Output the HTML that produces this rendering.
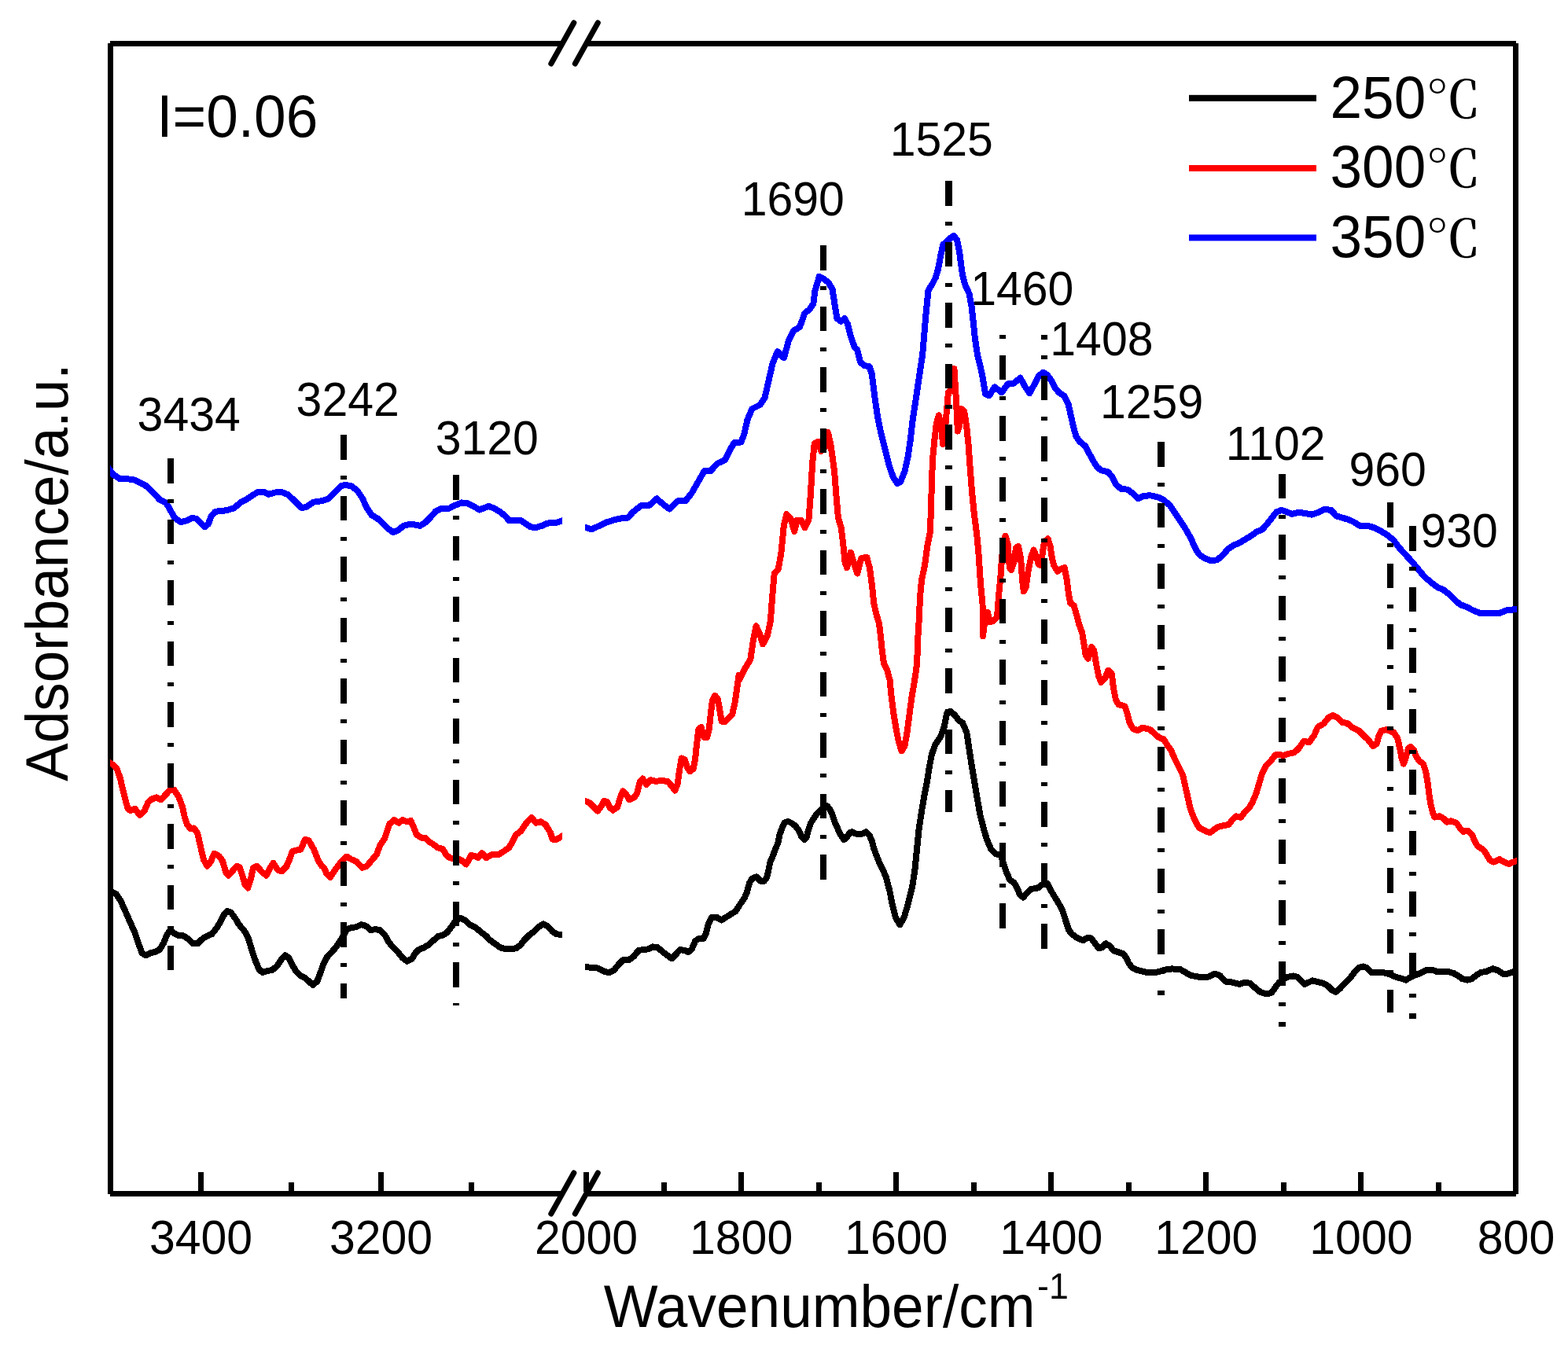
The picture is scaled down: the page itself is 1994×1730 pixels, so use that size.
<!DOCTYPE html>
<html><head><meta charset="utf-8"><title>FTIR spectra</title>
<style>html,body{margin:0;padding:0;background:#fff;} svg{display:block;}</style></head>
<body><svg width="1994" height="1730" viewBox="0 0 1994 1730">
<rect width="1994" height="1730" fill="#fff"/>
<g fill="#000" shape-rendering="crispEdges">
<rect x="140" y="52" width="575" height="7"/>
<rect x="746" y="52" width="1182" height="7"/>
<rect x="140" y="1515" width="575" height="7"/>
<rect x="746" y="1515" width="1182" height="7"/>
<rect x="137" y="55" width="7" height="1464"/>
<rect x="1924" y="55" width="7" height="1464"/>
<rect x="251.8" y="1491" width="7" height="25"/>
<rect x="481.2" y="1491" width="7" height="25"/>
<rect x="366.5" y="1504" width="7" height="12"/>
<rect x="596.0" y="1504" width="7" height="12"/>
<rect x="742.0" y="1491" width="7" height="25"/>
<rect x="939.1" y="1491" width="7" height="25"/>
<rect x="1136.2" y="1491" width="7" height="25"/>
<rect x="1333.3" y="1491" width="7" height="25"/>
<rect x="1530.3" y="1491" width="7" height="25"/>
<rect x="1727.4" y="1491" width="7" height="25"/>
<rect x="840.5" y="1504" width="7" height="12"/>
<rect x="1037.6" y="1504" width="7" height="12"/>
<rect x="1234.7" y="1504" width="7" height="12"/>
<rect x="1431.8" y="1504" width="7" height="12"/>
<rect x="1628.9" y="1504" width="7" height="12"/>
<rect x="1826.0" y="1504" width="7" height="12"/>
</g>
<g stroke="#000" stroke-width="7" stroke-linecap="round">
<line x1="700.8" y1="81.0" x2="729.8" y2="29.0"/>
<line x1="731.3" y1="81.0" x2="760.3" y2="29.0"/>
<line x1="700.8" y1="1544.0" x2="729.8" y2="1492.0"/>
<line x1="731.3" y1="1544.0" x2="760.3" y2="1492.0"/>
</g>
<g font-family="'Liberation Sans', Arial, sans-serif" fill="#000">
<text transform="translate(255.5,1595.0) scale(1,1.0412)" font-size="59" text-anchor="middle">3400</text>
<text transform="translate(484.5,1595.0) scale(1,1.0412)" font-size="59" text-anchor="middle">3200</text>
<text transform="translate(745.5,1595.0) scale(1,1.0412)" font-size="59" text-anchor="middle">2000</text>
<text transform="translate(942.6,1595.0) scale(1,1.0412)" font-size="59" text-anchor="middle">1800</text>
<text transform="translate(1139.7,1595.0) scale(1,1.0412)" font-size="59" text-anchor="middle">1600</text>
<text transform="translate(1336.8,1595.0) scale(1,1.0412)" font-size="59" text-anchor="middle">1400</text>
<text transform="translate(1533.8,1595.0) scale(1,1.0412)" font-size="59" text-anchor="middle">1200</text>
<text transform="translate(1730.9,1595.0) scale(1,1.0412)" font-size="59" text-anchor="middle">1000</text>
<text transform="translate(1928.0,1595.0) scale(1,1.0412)" font-size="59" text-anchor="middle">800</text>
<text transform="translate(767.7,1687.7) scale(1,1.0412)" font-size="73">Wavenumber/cm</text>
<text transform="translate(1319.1,1651.9) scale(1,1.0412)" font-size="44.7">-1</text>
<text transform="translate(86,994) rotate(-90) scale(1,1.0412)" font-size="73">Adsorbance/a.u.</text>
<text transform="translate(199.3,173.8) scale(1,1.0412)" font-size="73">I=0.06</text>
<text transform="translate(174.6,548.0) scale(1,1.0412)" font-size="59">3434</text>
<text transform="translate(376.6,529.0) scale(1,1.0412)" font-size="59">3242</text>
<text transform="translate(553.7,578.3) scale(1,1.0412)" font-size="59">3120</text>
<text transform="translate(942.7,273.6) scale(1,1.0412)" font-size="59">1690</text>
<text transform="translate(1131.7,197.7) scale(1,1.0412)" font-size="59">1525</text>
<text transform="translate(1234.2,388.1) scale(1,1.0412)" font-size="59">1460</text>
<text transform="translate(1335.3,452.4) scale(1,1.0412)" font-size="59">1408</text>
<text transform="translate(1399.0,531.7) scale(1,1.0412)" font-size="59">1259</text>
<text transform="translate(1558.8,585.1) scale(1,1.0412)" font-size="59">1102</text>
<text transform="translate(1715.4,618.4) scale(1,1.0412)" font-size="59">960</text>
<text transform="translate(1806.4,696.1) scale(1,1.0412)" font-size="59">930</text>
</g>
<g>
<rect x="1512" y="120.8" width="162" height="8" fill="#000"/>
<text transform="translate(1691.5,149.9) scale(1,1.0412)" font-size="73" font-family="'Liberation Sans', sans-serif">250</text>
<text transform="translate(1813.3,149.9) scale(0.958,0.888)" font-size="73" font-weight="500" font-family="'Liberation Serif', 'Noto Serif CJK SC', serif">℃</text>
<rect x="1512" y="210.0" width="162" height="8" fill="#f00"/>
<text transform="translate(1691.5,238.3) scale(1,1.0412)" font-size="73" font-family="'Liberation Sans', sans-serif">300</text>
<text transform="translate(1813.3,238.3) scale(0.958,0.888)" font-size="73" font-weight="500" font-family="'Liberation Serif', 'Noto Serif CJK SC', serif">℃</text>
<rect x="1512" y="298.4" width="162" height="8" fill="#00f"/>
<text transform="translate(1691.5,326.8) scale(1,1.0412)" font-size="73" font-family="'Liberation Sans', sans-serif">350</text>
<text transform="translate(1813.3,326.8) scale(0.958,0.888)" font-size="73" font-weight="500" font-family="'Liberation Serif', 'Noto Serif CJK SC', serif">℃</text>
</g>
<defs><clipPath id="cl"><rect x="140" y="0" width="575" height="1730"/></clipPath><clipPath id="cr"><rect x="743.9" y="0" width="1185.1" height="1730"/></clipPath></defs>
<path clip-path="url(#cl)" d="M136.1,1131.4 L141.5,1134.1 L147.5,1137.1 L153.5,1146.1 L159.6,1159.6 L165.6,1173.2 L171.6,1186.7 L176.1,1200.3 L180.6,1212.3 L185.1,1215.3 L191.2,1212.3 L197.2,1210.8 L203.2,1207.8 L207.7,1200.3 L212.2,1189.7 L215.2,1184.5 L219.7,1186.0 L225.8,1189.7 L233.3,1190.5 L239.3,1194.3 L245.3,1200.3 L251.3,1200.3 L257.4,1194.3 L263.4,1190.5 L269.4,1188.2 L275.4,1180.7 L279.9,1173.2 L284.4,1164.2 L288.9,1158.9 L293.5,1160.4 L299.5,1168.7 L304.0,1176.2 L311.5,1185.2 L316.0,1194.3 L320.5,1209.3 L325.1,1222.8 L329.6,1233.4 L334.1,1237.1 L340.1,1234.9 L346.1,1234.1 L352.1,1228.9 L358.2,1219.8 L362.7,1215.3 L367.2,1218.3 L371.7,1227.4 L376.2,1234.9 L382.2,1240.9 L388.2,1243.9 L394.3,1249.9 L398.0,1252.9 L403.3,1248.4 L407.8,1236.4 L410.8,1227.4 L415.3,1218.3 L421.3,1211.6 L427.4,1204.8 L433.4,1195.8 L439.4,1185.2 L441.1,1182.2 L447.1,1180.0 L453.1,1179.2 L459.1,1176.2 L465.1,1177.7 L471.2,1183.0 L477.2,1182.2 L483.2,1183.0 L489.2,1189.0 L493.7,1197.3 L498.2,1203.3 L505.8,1210.8 L511.8,1218.3 L517.8,1222.8 L523.8,1219.8 L528.3,1212.3 L532.8,1207.8 L538.9,1205.5 L544.9,1201.8 L550.9,1196.5 L556.9,1191.2 L562.9,1189.7 L568.9,1186.0 L575.0,1177.7 L579.5,1170.9 L585.5,1167.9 L591.5,1170.9 L597.5,1176.2 L605.1,1180.0 L611.1,1185.2 L617.1,1189.7 L623.1,1195.8 L629.1,1200.3 L636.6,1205.5 L642.7,1207.0 L650.2,1207.0 L656.2,1206.3 L662.2,1201.8 L666.7,1195.8 L672.8,1189.7 L678.8,1185.2 L684.8,1179.2 L690.8,1175.4 L696.8,1178.5 L702.8,1185.2 L707.4,1188.2 L714.1,1189.0 L720.1,1189.6" fill="none" stroke="#000" stroke-width="8" stroke-linejoin="round" stroke-linecap="butt" shape-rendering="crispEdges"/>
<path clip-path="url(#cr)" d="M737.8,1229.2 L743.8,1229.9 L750.5,1230.7 L759.5,1231.4 L767.0,1235.2 L774.6,1237.4 L780.6,1234.4 L786.6,1226.9 L792.6,1220.9 L800.1,1220.9 L806.1,1216.4 L812.1,1208.9 L818.1,1208.1 L824.1,1207.4 L830.2,1204.4 L836.2,1205.1 L842.2,1210.4 L848.2,1214.9 L854.2,1219.4 L860.2,1213.4 L864.7,1208.1 L870.7,1208.9 L875.2,1211.1 L879.7,1207.4 L884.3,1196.8 L888.8,1193.8 L894.8,1193.8 L897.8,1187.8 L900.8,1175.8 L905.3,1166.8 L911.3,1166.8 L917.3,1170.5 L923.3,1166.8 L929.3,1163.0 L935.3,1159.3 L941.0,1150.5 L946.5,1142.8 L949.8,1135.1 L953.1,1123.0 L956.4,1117.5 L961.9,1115.3 L967.3,1120.8 L971.7,1120.8 L975.0,1116.4 L977.2,1107.6 L979.4,1096.7 L982.7,1089.0 L986.0,1080.2 L989.3,1072.5 L991.5,1061.5 L994.8,1052.7 L998.1,1046.1 L1002.5,1045.0 L1006.9,1047.2 L1011.3,1050.5 L1015.7,1056.0 L1019.0,1063.7 L1022.8,1068.1 L1025.6,1064.8 L1027.7,1057.1 L1031.0,1047.2 L1034.3,1041.7 L1038.7,1035.1 L1043.1,1030.8 L1046.4,1027.5 L1051.9,1025.3 L1055.2,1029.7 L1058.5,1036.2 L1061.8,1046.1 L1066.2,1056.0 L1069.5,1062.6 L1073.3,1068.1 L1077.2,1064.8 L1080.5,1059.3 L1083.8,1058.2 L1088.2,1060.4 L1092.5,1061.5 L1096.9,1060.4 L1101.3,1058.2 L1105.7,1062.6 L1109.0,1070.3 L1111.2,1079.1 L1114.5,1087.9 L1118.9,1098.8 L1123.3,1107.6 L1126.6,1115.3 L1128.8,1124.1 L1131.3,1132.8 L1134.7,1150.2 L1139.1,1167.5 L1144.3,1176.2 L1149.5,1167.5 L1154.7,1150.2 L1159.9,1129.4 L1163.4,1106.8 L1166.0,1080.8 L1168.6,1054.8 L1172.0,1032.2 L1175.5,1011.4 L1179.0,994.1 L1181.6,976.7 L1185.0,959.4 L1189.4,947.2 L1196.3,936.8 L1200.7,924.7 L1204.1,907.3 L1208.5,904.7 L1213.7,909.1 L1218.9,916.0 L1224.1,919.5 L1229.3,931.6 L1232.7,954.2 L1236.2,976.7 L1239.7,997.5 L1243.2,1018.4 L1246.6,1037.4 L1251.0,1054.8 L1255.3,1068.7 L1260.5,1080.8 L1265.7,1086.0 L1272.6,1087.7 L1276.1,1098.2 L1279.6,1108.6 L1283.9,1119.0 L1289.1,1122.4 L1293.5,1129.4 L1296.9,1138.0 L1301.3,1141.5 L1305.6,1136.3 L1310.8,1131.1 L1320.0,1129.4 L1324.1,1126.1 L1328.1,1123.1 L1332.1,1124.1 L1336.1,1132.1 L1340.1,1139.1 L1345.1,1147.1 L1350.2,1156.2 L1353.2,1164.2 L1356.2,1174.2 L1359.2,1183.2 L1363.2,1188.3 L1370.2,1193.3 L1377.2,1196.3 L1382.2,1193.3 L1387.3,1193.3 L1391.3,1198.3 L1397.3,1206.3 L1401.3,1205.3 L1406.3,1200.3 L1411.3,1203.3 L1416.3,1209.3 L1422.4,1211.3 L1428.4,1213.3 L1432.4,1218.4 L1435.4,1225.4 L1439.4,1230.4 L1444.4,1233.4 L1452.5,1235.4 L1460.5,1237.4 L1468.5,1237.4 L1475.5,1235.4 L1482.5,1233.4 L1490.6,1232.4 L1501.0,1233.1 L1506.5,1236.4 L1514.3,1240.8 L1523.1,1242.5 L1531.9,1243.0 L1537.4,1242.5 L1545.2,1238.6 L1551.8,1241.4 L1558.4,1248.5 L1567.2,1249.6 L1576.1,1251.9 L1583.8,1249.6 L1589.3,1250.8 L1595.9,1256.3 L1602.5,1261.8 L1610.3,1264.5 L1616.9,1262.9 L1622.4,1255.2 L1626.8,1249.6 L1631.2,1246.3 L1636.7,1243.0 L1644.5,1241.4 L1650.0,1243.0 L1655.5,1248.5 L1658.8,1251.9 L1664.3,1249.6 L1668.7,1247.4 L1675.4,1249.1 L1683.1,1250.8 L1688.6,1254.1 L1694.1,1259.6 L1698.5,1261.8 L1704.0,1257.4 L1711.5,1249.6 L1717.3,1243.8 L1723.1,1235.8 L1727.7,1231.1 L1733.5,1229.4 L1738.1,1231.1 L1743.8,1236.9 L1750.8,1236.9 L1758.8,1236.9 L1766.9,1239.2 L1775.0,1242.7 L1783.0,1245.0 L1787.7,1246.7 L1793.4,1243.3 L1799.2,1240.4 L1806.1,1238.1 L1814.2,1234.0 L1821.1,1233.5 L1826.9,1235.8 L1832.6,1235.8 L1840.7,1235.8 L1848.8,1238.1 L1854.6,1241.5 L1859.2,1245.0 L1866.1,1246.7 L1871.9,1245.0 L1877.6,1240.4 L1883.4,1236.9 L1890.3,1235.8 L1898.4,1232.3 L1905.3,1234.6 L1911.1,1238.6 L1916.9,1238.6 L1923.8,1236.3 L1929.5,1234.4" fill="none" stroke="#000" stroke-width="8" stroke-linejoin="round" stroke-linecap="butt" shape-rendering="crispEdges"/>
<path clip-path="url(#cl)" d="M134.8,967.4 L140.0,970.5 L144.1,972.9 L148.3,977.3 L152.8,989.6 L155.8,1003.1 L159.6,1018.2 L162.6,1028.7 L165.6,1031.0 L171.6,1028.7 L177.6,1037.0 L183.6,1031.7 L188.1,1021.2 L192.7,1016.7 L198.7,1014.4 L204.7,1017.4 L210.7,1010.7 L216.7,1004.6 L221.2,1004.6 L227.3,1013.7 L231.8,1025.7 L234.8,1039.3 L237.8,1048.3 L242.3,1054.3 L246.8,1053.5 L251.3,1060.3 L254.3,1073.9 L258.9,1093.4 L263.4,1101.7 L267.9,1096.4 L272.4,1085.9 L278.4,1088.9 L282.9,1094.9 L287.4,1110.0 L290.5,1113.7 L296.5,1107.0 L301.0,1101.7 L304.7,1103.2 L308.5,1114.5 L311.5,1125.0 L315.3,1129.5 L319.0,1117.5 L322.0,1103.9 L326.6,1101.7 L332.6,1108.5 L338.6,1113.7 L343.1,1104.7 L347.6,1097.9 L353.6,1107.0 L358.2,1108.5 L364.2,1102.4 L368.7,1091.9 L371.7,1082.9 L377.7,1081.4 L382.2,1080.6 L388.2,1067.8 L392.8,1069.3 L398.8,1079.9 L404.8,1094.9 L409.3,1101.7 L412.3,1103.9 L415.3,1111.5 L419.8,1116.0 L425.9,1107.0 L431.9,1098.7 L439.4,1090.4 L441.1,1089.7 L447.1,1093.4 L453.1,1095.7 L460.6,1103.9 L466.6,1101.7 L472.7,1094.2 L478.7,1087.4 L483.2,1075.4 L489.2,1066.3 L492.2,1057.3 L495.2,1048.3 L501.2,1043.0 L507.3,1046.8 L511.8,1043.0 L517.8,1045.3 L522.3,1043.8 L526.8,1054.3 L529.8,1061.8 L535.8,1065.6 L540.4,1065.6 L544.9,1070.1 L550.9,1073.9 L556.9,1078.4 L562.9,1079.9 L567.4,1087.4 L572.0,1091.2 L578.0,1092.7 L585.5,1093.4 L593.0,1099.4 L599.0,1088.1 L603.6,1088.9 L608.1,1091.2 L612.6,1085.1 L618.6,1091.2 L624.6,1087.4 L633.6,1087.4 L639.7,1083.6 L647.2,1078.4 L651.7,1070.8 L656.2,1061.8 L662.2,1057.3 L668.2,1048.3 L675.8,1040.0 L681.8,1046.8 L687.8,1045.3 L693.8,1049.0 L699.8,1058.8 L702.8,1067.8 L707.4,1067.8 L714.1,1064.1 L719.4,1061.2" fill="none" stroke="#f00" stroke-width="8" stroke-linejoin="round" stroke-linecap="butt" shape-rendering="crispEdges"/>
<path clip-path="url(#cr)" d="M738.7,1016.6 L744.2,1019.0 L750.1,1021.5 L755.1,1026.6 L760.1,1031.6 L765.1,1024.9 L767.7,1019.0 L771.9,1019.8 L775.2,1026.6 L779.4,1030.7 L785.3,1026.6 L788.6,1014.8 L792.0,1006.4 L797.0,1011.5 L800.4,1017.3 L807.1,1014.0 L810.4,1008.1 L813.8,994.7 L817.1,990.5 L822.1,998.1 L827.2,992.2 L833.9,993.9 L840.6,993.0 L849.0,993.9 L854.0,999.7 L858.2,1005.6 L861.5,998.1 L864.1,979.6 L866.6,964.5 L870.8,966.2 L874.1,976.3 L877.5,981.3 L881.7,977.9 L884.2,964.5 L885.9,947.8 L888.4,927.6 L891.7,925.1 L895.1,937.7 L899.3,937.7 L901.8,927.6 L903.5,910.9 L906.0,890.8 L909.3,884.9 L912.7,889.1 L915.2,902.5 L917.7,917.6 L921.9,918.4 L926.1,914.2 L931.1,909.2 L934.5,894.1 L937.0,877.4 L939.5,858.9 L939.7,865.5 L947.0,850.9 L954.3,838.8 L957.9,814.5 L961.6,796.3 L966.4,807.2 L970.1,819.4 L976.2,807.2 L979.8,790.2 L982.2,758.6 L984.7,729.5 L989.5,724.6 L993.2,705.2 L996.8,668.7 L1000.4,654.2 L1005.3,659.0 L1010.2,676.0 L1013.8,661.5 L1018.7,661.5 L1023.5,671.2 L1028.4,661.5 L1030.8,629.9 L1033.2,588.6 L1035.7,564.3 L1040.5,561.9 L1044.2,574.0 L1049.0,569.1 L1052.7,549.7 L1056.3,564.3 L1061.2,600.7 L1063.6,632.3 L1066.0,659.0 L1069.7,671.2 L1072.1,690.6 L1074.5,714.9 L1077.0,722.2 L1081.8,702.8 L1085.5,714.9 L1090.3,729.5 L1095.2,710.0 L1102.3,709.0 L1106.0,722.5 L1109.0,745.1 L1111.3,767.6 L1114.3,781.1 L1118.0,793.2 L1120.3,812.7 L1121.8,827.7 L1124.0,844.2 L1128.5,853.3 L1131.6,865.3 L1133.8,887.8 L1136.8,910.4 L1139.8,928.4 L1142.8,943.4 L1146.6,955.4 L1150.3,949.4 L1153.3,932.9 L1156.3,910.4 L1159.3,887.8 L1162.4,869.8 L1165.4,850.3 L1166.9,827.7 L1167.6,805.2 L1169.1,784.1 L1169.9,760.1 L1172.1,737.6 L1175.9,719.9 L1179.6,692.9 L1182.6,677.9 L1184.1,647.8 L1184.9,610.3 L1186.4,580.2 L1188.6,557.7 L1190.9,538.1 L1193.9,528.4 L1196.9,544.1 L1199.2,565.2 L1202.2,542.6 L1204.4,517.1 L1205.9,499.1 L1209.7,496.1 L1213.4,469.0 L1215.7,505.1 L1217.9,548.6 L1220.2,541.1 L1222.5,520.1 L1226.2,523.1 L1229.2,542.6 L1231.5,565.2 L1233.7,595.2 L1236.0,625.3 L1239.0,655.3 L1242.0,677.9 L1244.2,700.4 L1247.2,745.1 L1249.5,767.6 L1250.0,809.3 L1253.0,785.2 L1256.0,779.2 L1259.0,791.2 L1263.5,789.7 L1268.0,785.2 L1270.3,755.2 L1272.5,732.6 L1274.0,710.1 L1276.3,687.6 L1278.5,681.6 L1281.6,692.1 L1283.8,722.1 L1286.1,725.1 L1289.8,713.1 L1292.1,696.6 L1295.1,695.1 L1298.1,710.1 L1300.3,740.2 L1301.8,752.2 L1304.8,746.2 L1307.8,725.1 L1311.6,707.1 L1314.6,699.6 L1317.6,707.1 L1320.6,717.6 L1323.6,719.1 L1325.9,702.6 L1328.1,689.1 L1332.6,685.3 L1335.6,695.1 L1337.9,710.1 L1340.2,719.1 L1344.7,726.6 L1349.2,723.6 L1353.7,722.1 L1356.7,737.1 L1358.9,755.2 L1361.2,767.2 L1365.7,770.2 L1368.7,780.7 L1371.7,792.7 L1376.2,804.8 L1378.5,819.8 L1380.7,833.3 L1383.7,837.8 L1388.2,822.8 L1391.2,827.3 L1394.2,845.3 L1397.2,860.4 L1400.3,867.9 L1404.8,863.4 L1409.3,852.8 L1413.8,857.3 L1416.0,875.4 L1419.0,890.4 L1422.8,896.4 L1428.8,897.9 L1430.5,898.5 L1433.5,907.6 L1436.5,919.6 L1441.0,927.1 L1447.0,929.3 L1453.1,925.6 L1462.1,927.8 L1468.1,933.1 L1474.1,938.4 L1480.1,940.6 L1484.6,948.1 L1489.1,954.1 L1493.6,964.7 L1498.1,973.7 L1504.1,985.7 L1507.1,999.2 L1510.2,1012.7 L1513.2,1026.3 L1516.2,1035.3 L1520.7,1045.8 L1525.2,1053.3 L1531.2,1056.3 L1538.7,1059.3 L1544.7,1054.8 L1549.2,1051.8 L1555.2,1050.3 L1562.7,1048.8 L1567.2,1042.8 L1571.8,1038.3 L1577.8,1039.8 L1582.3,1033.8 L1588.3,1027.8 L1592.8,1020.3 L1597.3,1009.7 L1602.0,994.2 L1605.0,983.7 L1609.5,974.7 L1615.5,968.6 L1621.6,960.4 L1626.1,959.6 L1632.1,961.1 L1638.1,958.9 L1645.6,957.4 L1651.6,952.1 L1657.6,943.1 L1665.1,943.9 L1671.1,935.6 L1675.6,925.1 L1683.2,920.6 L1689.2,913.1 L1695.2,910.1 L1701.2,913.1 L1707.2,919.1 L1713.2,919.8 L1719.2,925.1 L1728.2,929.6 L1734.2,935.6 L1740.3,941.6 L1746.3,949.1 L1750.8,946.1 L1753.0,937.1 L1756.8,929.6 L1762.8,928.1 L1772.1,931.6 L1777.0,938.8 L1780.0,951.0 L1782.5,964.3 L1784.9,971.6 L1787.9,963.1 L1790.9,952.2 L1794.0,949.8 L1797.6,953.4 L1801.3,963.1 L1804.9,968.0 L1809.8,971.6 L1813.4,982.5 L1815.8,997.1 L1817.6,1011.7 L1819.5,1023.8 L1821.9,1033.5 L1824.3,1039.6 L1830.4,1038.3 L1835.2,1040.8 L1840.1,1045.6 L1845.0,1044.4 L1852.2,1046.8 L1857.1,1054.1 L1860.7,1057.8 L1866.8,1056.6 L1871.7,1061.4 L1875.3,1069.9 L1878.9,1076.0 L1887.4,1082.0 L1891.1,1088.1 L1894.7,1094.2 L1899.6,1096.6 L1906.8,1093.0 L1912.9,1096.6 L1919.0,1099.0 L1923.8,1096.6 L1928.1,1095.4 L1933.9,1093.7" fill="none" stroke="#f00" stroke-width="8" stroke-linejoin="round" stroke-linecap="butt" shape-rendering="crispEdges"/>
<path clip-path="url(#cl)" d="M136.5,593.5 L140.0,598.4 L143.0,602.6 L145.7,605.0 L147.5,605.9 L152.8,609.3 L168.6,609.6 L174.6,612.3 L185.1,617.6 L191.2,622.9 L203.2,635.7 L210.7,639.4 L215.2,646.2 L222.0,659.0 L230.3,664.3 L237.8,662.0 L243.8,659.0 L249.8,659.7 L254.3,664.3 L260.4,670.3 L264.9,666.5 L268.6,656.7 L273.9,650.7 L282.9,650.0 L290.5,648.5 L298.0,646.2 L305.5,639.4 L313.0,635.7 L320.5,630.4 L328.1,625.9 L335.6,625.9 L341.6,628.9 L349.1,626.6 L358.2,625.9 L365.7,628.9 L373.2,635.7 L383.7,646.2 L389.7,644.7 L398.8,638.7 L409.3,637.2 L416.8,634.9 L425.9,625.9 L433.4,618.4 L438.8,616.9 L447.1,618.4 L454.6,624.4 L460.6,633.4 L466.6,646.2 L472.7,655.2 L480.2,659.7 L487.7,666.5 L493.7,672.5 L499.7,677.0 L505.8,674.8 L513.3,668.8 L519.3,667.3 L526.8,667.3 L534.3,668.8 L540.4,665.0 L547.9,657.5 L553.9,650.7 L561.4,647.0 L570.5,647.0 L578.0,643.2 L587.0,639.4 L594.5,640.2 L602.0,643.9 L609.6,648.5 L615.6,646.2 L621.6,643.9 L629.1,647.0 L636.6,651.5 L642.7,656.7 L647.2,662.0 L654.7,662.0 L662.2,662.0 L668.2,665.8 L674.3,670.3 L681.8,671.0 L689.3,668.8 L695.3,665.8 L701.3,665.0 L707.4,665.0 L714.1,662.7 L719.8,660.9" fill="none" stroke="#00f" stroke-width="8" stroke-linejoin="round" stroke-linecap="butt" shape-rendering="crispEdges"/>
<path clip-path="url(#cr)" d="M738.3,668.9 L744.0,670.7 L752.1,673.4 L760.2,669.7 L770.3,664.7 L780.5,661.6 L788.6,659.6 L798.7,658.6 L804.7,651.5 L814.8,643.4 L825.0,643.4 L835.1,634.3 L843.2,641.4 L851.3,647.5 L861.4,637.4 L871.5,637.4 L879.6,627.3 L887.7,613.1 L895.8,598.9 L903.9,598.9 L911.9,589.8 L922.1,584.8 L928.1,572.6 L934.2,562.5 L942.3,562.5 L946.3,552.4 L950.4,534.2 L956.5,520.0 L966.6,515.0 L972.6,505.9 L976.7,487.7 L982.8,461.4 L988.8,447.2 L996.9,455.3 L1003.0,433.1 L1009.0,420.9 L1017.1,415.9 L1023.2,398.7 L1029.3,393.6 L1034.3,386.5 L1036.4,370.3 L1041.8,351.8 L1047.7,354.8 L1053.6,359.7 L1058.5,367.6 L1061.5,387.2 L1064.4,404.9 L1069.3,408.9 L1074.2,404.9 L1078.2,412.8 L1082.1,428.5 L1087.0,442.3 L1090.0,444.4 L1094.2,461.0 L1099.4,465.2 L1105.6,466.2 L1108.7,475.6 L1110.8,492.2 L1112.9,508.9 L1116.0,529.7 L1120.2,550.5 L1125.4,571.3 L1130.6,592.1 L1135.8,606.7 L1141.0,615.0 L1145.1,612.9 L1150.3,600.4 L1154.5,581.7 L1157.6,560.9 L1160.7,533.8 L1163.9,513.0 L1167.0,492.2 L1170.1,471.4 L1173.2,450.6 L1175.3,425.6 L1177.4,400.7 L1180.5,369.5 L1185.7,361.1 L1189.9,352.8 L1193.0,342.4 L1196.1,325.8 L1199.2,311.2 L1203.4,308.1 L1208.6,302.9 L1212.8,299.8 L1216.9,305.0 L1220.0,319.5 L1222.1,336.2 L1224.2,350.7 L1227.3,362.2 L1232.5,373.6 L1235.6,390.3 L1237.7,409.0 L1239.8,429.8 L1242.9,450.6 L1246.0,463.1 L1249.2,477.7 L1253.1,501.3 L1258.0,503.2 L1264.9,492.4 L1273.8,499.3 L1281.6,488.5 L1289.5,487.5 L1297.4,480.6 L1303.3,491.4 L1309.2,500.3 L1315.1,489.5 L1321.0,477.7 L1326.9,473.7 L1331.7,476.9 L1336.8,483.6 L1341.8,493.6 L1346.8,499.5 L1353.5,503.7 L1358.5,513.7 L1361.9,528.8 L1365.3,543.9 L1368.6,555.6 L1373.6,562.3 L1380.3,567.4 L1385.4,577.4 L1390.4,586.6 L1395.4,594.2 L1400.4,598.4 L1408.8,600.1 L1413.9,605.9 L1418.9,616.0 L1425.6,621.8 L1434.0,622.7 L1440.7,627.7 L1447.4,634.4 L1454.1,631.1 L1462.5,630.2 L1470.8,631.9 L1479.2,635.3 L1487.6,642.8 L1494.3,652.8 L1501.0,662.9 L1507.7,673.0 L1514.4,684.7 L1519.4,696.4 L1524.5,704.8 L1531.2,709.8 L1539.6,713.2 L1547.9,712.3 L1554.6,706.5 L1561.3,698.9 L1568.0,693.9 L1574.7,691.4 L1583.1,686.4 L1591.5,681.3 L1598.2,676.3 L1604.9,673.8 L1611.6,666.3 L1623.2,651.3 L1629.8,648.8 L1636.4,651.3 L1643.0,653.8 L1649.6,652.1 L1657.9,652.6 L1667.9,654.6 L1676.1,652.1 L1684.4,648.0 L1692.7,648.8 L1699.3,656.3 L1707.6,658.8 L1715.8,661.2 L1722.5,664.5 L1729.1,668.7 L1739.0,668.7 L1747.3,671.2 L1755.6,675.3 L1763.8,680.3 L1772.1,686.9 L1778.7,696.0 L1787.0,705.1 L1795.3,714.2 L1803.6,724.1 L1811.8,734.1 L1821.8,742.3 L1828.4,747.3 L1835.0,749.8 L1843.3,756.4 L1849.9,763.0 L1856.5,768.8 L1864.8,772.1 L1873.1,776.3 L1881.3,779.6 L1889.6,780.4 L1897.9,779.6 L1907.8,779.6 L1916.1,776.3 L1924.4,775.4 L1926.9,775.4 L1932.9,775.4" fill="none" stroke="#00f" stroke-width="8" stroke-linejoin="round" stroke-linecap="butt" shape-rendering="crispEdges"/>
<g fill="#000" shape-rendering="crispEdges">
<rect x="213.1" y="583.2" width="8" height="31.5"/>
<rect x="213.1" y="635.2" width="8" height="5.0"/>
<rect x="213.1" y="660.7" width="8" height="31.5"/>
<rect x="213.1" y="712.7" width="8" height="5.0"/>
<rect x="213.1" y="738.2" width="8" height="31.5"/>
<rect x="213.1" y="790.2" width="8" height="5.0"/>
<rect x="213.1" y="815.7" width="8" height="31.5"/>
<rect x="213.1" y="867.7" width="8" height="5.0"/>
<rect x="213.1" y="893.2" width="8" height="31.5"/>
<rect x="213.1" y="945.2" width="8" height="5.0"/>
<rect x="213.1" y="970.7" width="8" height="31.5"/>
<rect x="213.1" y="1022.7" width="8" height="5.0"/>
<rect x="213.1" y="1048.2" width="8" height="31.5"/>
<rect x="213.1" y="1100.2" width="8" height="5.0"/>
<rect x="213.1" y="1125.7" width="8" height="31.5"/>
<rect x="213.1" y="1177.7" width="8" height="5.0"/>
<rect x="213.1" y="1203.2" width="8" height="31.0"/>
<rect x="433.0" y="553.1" width="8" height="31.5"/>
<rect x="433.0" y="605.1" width="8" height="5.0"/>
<rect x="433.0" y="630.6" width="8" height="31.5"/>
<rect x="433.0" y="682.6" width="8" height="5.0"/>
<rect x="433.0" y="708.1" width="8" height="31.5"/>
<rect x="433.0" y="760.1" width="8" height="5.0"/>
<rect x="433.0" y="785.6" width="8" height="31.5"/>
<rect x="433.0" y="837.6" width="8" height="5.0"/>
<rect x="433.0" y="863.1" width="8" height="31.5"/>
<rect x="433.0" y="915.1" width="8" height="5.0"/>
<rect x="433.0" y="940.6" width="8" height="31.5"/>
<rect x="433.0" y="992.6" width="8" height="5.0"/>
<rect x="433.0" y="1018.1" width="8" height="31.5"/>
<rect x="433.0" y="1070.1" width="8" height="5.0"/>
<rect x="433.0" y="1095.6" width="8" height="31.5"/>
<rect x="433.0" y="1147.6" width="8" height="5.0"/>
<rect x="433.0" y="1173.1" width="8" height="31.5"/>
<rect x="433.0" y="1225.1" width="8" height="5.0"/>
<rect x="433.0" y="1250.6" width="8" height="19.7"/>
<rect x="576.0" y="604.2" width="8" height="31.5"/>
<rect x="576.0" y="656.2" width="8" height="5.0"/>
<rect x="576.0" y="681.7" width="8" height="31.5"/>
<rect x="576.0" y="733.7" width="8" height="5.0"/>
<rect x="576.0" y="759.2" width="8" height="31.5"/>
<rect x="576.0" y="811.2" width="8" height="5.0"/>
<rect x="576.0" y="836.7" width="8" height="31.5"/>
<rect x="576.0" y="888.7" width="8" height="5.0"/>
<rect x="576.0" y="914.2" width="8" height="31.5"/>
<rect x="576.0" y="966.2" width="8" height="5.0"/>
<rect x="576.0" y="991.7" width="8" height="31.5"/>
<rect x="576.0" y="1043.7" width="8" height="5.0"/>
<rect x="576.0" y="1069.2" width="8" height="31.5"/>
<rect x="576.0" y="1121.2" width="8" height="5.0"/>
<rect x="576.0" y="1146.7" width="8" height="31.5"/>
<rect x="576.0" y="1198.7" width="8" height="5.0"/>
<rect x="576.0" y="1224.2" width="8" height="31.5"/>
<rect x="576.0" y="1276.2" width="8" height="2.5"/>
<rect x="1043.0" y="312.3" width="8" height="31.5"/>
<rect x="1043.0" y="364.3" width="8" height="5.0"/>
<rect x="1043.0" y="389.8" width="8" height="31.5"/>
<rect x="1043.0" y="441.8" width="8" height="5.0"/>
<rect x="1043.0" y="467.3" width="8" height="31.5"/>
<rect x="1043.0" y="519.3" width="8" height="5.0"/>
<rect x="1043.0" y="544.8" width="8" height="31.5"/>
<rect x="1043.0" y="596.8" width="8" height="5.0"/>
<rect x="1043.0" y="622.3" width="8" height="31.5"/>
<rect x="1043.0" y="674.3" width="8" height="5.0"/>
<rect x="1043.0" y="699.8" width="8" height="31.5"/>
<rect x="1043.0" y="751.8" width="8" height="5.0"/>
<rect x="1043.0" y="777.3" width="8" height="31.5"/>
<rect x="1043.0" y="829.3" width="8" height="5.0"/>
<rect x="1043.0" y="854.8" width="8" height="31.5"/>
<rect x="1043.0" y="906.8" width="8" height="5.0"/>
<rect x="1043.0" y="932.3" width="8" height="31.5"/>
<rect x="1043.0" y="984.3" width="8" height="5.0"/>
<rect x="1043.0" y="1009.8" width="8" height="31.5"/>
<rect x="1043.0" y="1061.8" width="8" height="5.0"/>
<rect x="1043.0" y="1087.3" width="8" height="31.2"/>
<rect x="1202.4" y="230.0" width="9" height="31.5"/>
<rect x="1202.4" y="282.0" width="9" height="5.0"/>
<rect x="1202.4" y="307.5" width="9" height="31.5"/>
<rect x="1202.4" y="359.5" width="9" height="5.0"/>
<rect x="1202.4" y="385.0" width="9" height="31.5"/>
<rect x="1202.4" y="437.0" width="9" height="5.0"/>
<rect x="1202.4" y="462.5" width="9" height="31.5"/>
<rect x="1202.4" y="514.5" width="9" height="5.0"/>
<rect x="1202.4" y="540.0" width="9" height="31.5"/>
<rect x="1202.4" y="592.0" width="9" height="5.0"/>
<rect x="1202.4" y="617.5" width="9" height="31.5"/>
<rect x="1202.4" y="669.5" width="9" height="5.0"/>
<rect x="1202.4" y="695.0" width="9" height="31.5"/>
<rect x="1202.4" y="747.0" width="9" height="5.0"/>
<rect x="1202.4" y="772.5" width="9" height="31.5"/>
<rect x="1202.4" y="824.5" width="9" height="5.0"/>
<rect x="1202.4" y="850.0" width="9" height="31.5"/>
<rect x="1202.4" y="902.0" width="9" height="5.0"/>
<rect x="1202.4" y="927.5" width="9" height="31.5"/>
<rect x="1202.4" y="979.5" width="9" height="5.0"/>
<rect x="1202.4" y="1005.0" width="9" height="27.8"/>
<rect x="1271.0" y="426.0" width="8" height="5.0"/>
<rect x="1271.0" y="451.5" width="8" height="31.5"/>
<rect x="1271.0" y="503.5" width="8" height="5.0"/>
<rect x="1271.0" y="529.0" width="8" height="31.5"/>
<rect x="1271.0" y="581.0" width="8" height="5.0"/>
<rect x="1271.0" y="606.5" width="8" height="31.5"/>
<rect x="1271.0" y="658.5" width="8" height="5.0"/>
<rect x="1271.0" y="684.0" width="8" height="31.5"/>
<rect x="1271.0" y="736.0" width="8" height="5.0"/>
<rect x="1271.0" y="761.5" width="8" height="31.5"/>
<rect x="1271.0" y="813.5" width="8" height="5.0"/>
<rect x="1271.0" y="839.0" width="8" height="31.5"/>
<rect x="1271.0" y="891.0" width="8" height="5.0"/>
<rect x="1271.0" y="916.5" width="8" height="31.5"/>
<rect x="1271.0" y="968.5" width="8" height="5.0"/>
<rect x="1271.0" y="994.0" width="8" height="31.5"/>
<rect x="1271.0" y="1046.0" width="8" height="5.0"/>
<rect x="1271.0" y="1071.5" width="8" height="31.5"/>
<rect x="1271.0" y="1123.5" width="8" height="5.0"/>
<rect x="1271.0" y="1149.0" width="8" height="31.5"/>
<rect x="1324.0" y="426.0" width="8" height="5.9"/>
<rect x="1324.0" y="452.4" width="8" height="5.0"/>
<rect x="1324.0" y="477.9" width="8" height="31.5"/>
<rect x="1324.0" y="529.9" width="8" height="5.0"/>
<rect x="1324.0" y="555.4" width="8" height="31.5"/>
<rect x="1324.0" y="607.4" width="8" height="5.0"/>
<rect x="1324.0" y="632.9" width="8" height="31.5"/>
<rect x="1324.0" y="684.9" width="8" height="5.0"/>
<rect x="1324.0" y="710.4" width="8" height="31.5"/>
<rect x="1324.0" y="762.4" width="8" height="5.0"/>
<rect x="1324.0" y="787.9" width="8" height="31.5"/>
<rect x="1324.0" y="839.9" width="8" height="5.0"/>
<rect x="1324.0" y="865.4" width="8" height="31.5"/>
<rect x="1324.0" y="917.4" width="8" height="5.0"/>
<rect x="1324.0" y="942.9" width="8" height="31.5"/>
<rect x="1324.0" y="994.9" width="8" height="5.0"/>
<rect x="1324.0" y="1020.4" width="8" height="31.5"/>
<rect x="1324.0" y="1072.4" width="8" height="5.0"/>
<rect x="1324.0" y="1097.9" width="8" height="31.5"/>
<rect x="1324.0" y="1149.9" width="8" height="5.0"/>
<rect x="1324.0" y="1175.4" width="8" height="31.5"/>
<rect x="1472.0" y="562.1" width="9" height="31.5"/>
<rect x="1472.0" y="614.1" width="9" height="5.0"/>
<rect x="1472.0" y="639.6" width="9" height="31.5"/>
<rect x="1472.0" y="691.6" width="9" height="5.0"/>
<rect x="1472.0" y="717.1" width="9" height="31.5"/>
<rect x="1472.0" y="769.1" width="9" height="5.0"/>
<rect x="1472.0" y="794.6" width="9" height="31.5"/>
<rect x="1472.0" y="846.6" width="9" height="5.0"/>
<rect x="1472.0" y="872.1" width="9" height="31.5"/>
<rect x="1472.0" y="924.1" width="9" height="5.0"/>
<rect x="1472.0" y="949.6" width="9" height="31.5"/>
<rect x="1472.0" y="1001.6" width="9" height="5.0"/>
<rect x="1472.0" y="1027.1" width="9" height="31.5"/>
<rect x="1472.0" y="1079.1" width="9" height="5.0"/>
<rect x="1472.0" y="1104.6" width="9" height="31.5"/>
<rect x="1472.0" y="1156.6" width="9" height="5.0"/>
<rect x="1472.0" y="1182.1" width="9" height="31.5"/>
<rect x="1472.0" y="1234.1" width="9" height="5.0"/>
<rect x="1472.0" y="1259.6" width="9" height="6.4"/>
<rect x="1626.0" y="602.7" width="9" height="31.5"/>
<rect x="1626.0" y="654.7" width="9" height="5.0"/>
<rect x="1626.0" y="680.2" width="9" height="31.5"/>
<rect x="1626.0" y="732.2" width="9" height="5.0"/>
<rect x="1626.0" y="757.7" width="9" height="31.5"/>
<rect x="1626.0" y="809.7" width="9" height="5.0"/>
<rect x="1626.0" y="835.2" width="9" height="31.5"/>
<rect x="1626.0" y="887.2" width="9" height="5.0"/>
<rect x="1626.0" y="912.7" width="9" height="31.5"/>
<rect x="1626.0" y="964.7" width="9" height="5.0"/>
<rect x="1626.0" y="990.2" width="9" height="31.5"/>
<rect x="1626.0" y="1042.2" width="9" height="5.0"/>
<rect x="1626.0" y="1067.7" width="9" height="31.5"/>
<rect x="1626.0" y="1119.7" width="9" height="5.0"/>
<rect x="1626.0" y="1145.2" width="9" height="31.5"/>
<rect x="1626.0" y="1197.2" width="9" height="5.0"/>
<rect x="1626.0" y="1222.7" width="9" height="31.5"/>
<rect x="1626.0" y="1274.7" width="9" height="5.0"/>
<rect x="1626.0" y="1300.2" width="9" height="5.8"/>
<rect x="1764.4" y="639.2" width="8" height="31.5"/>
<rect x="1764.4" y="691.2" width="8" height="5.0"/>
<rect x="1764.4" y="716.7" width="8" height="31.5"/>
<rect x="1764.4" y="768.7" width="8" height="5.0"/>
<rect x="1764.4" y="794.2" width="8" height="31.5"/>
<rect x="1764.4" y="846.2" width="8" height="5.0"/>
<rect x="1764.4" y="871.7" width="8" height="31.5"/>
<rect x="1764.4" y="923.7" width="8" height="5.0"/>
<rect x="1764.4" y="949.2" width="8" height="31.5"/>
<rect x="1764.4" y="1001.2" width="8" height="5.0"/>
<rect x="1764.4" y="1026.7" width="8" height="31.5"/>
<rect x="1764.4" y="1078.7" width="8" height="5.0"/>
<rect x="1764.4" y="1104.2" width="8" height="31.5"/>
<rect x="1764.4" y="1156.2" width="8" height="5.0"/>
<rect x="1764.4" y="1181.7" width="8" height="31.5"/>
<rect x="1764.4" y="1233.7" width="8" height="5.0"/>
<rect x="1764.4" y="1259.2" width="8" height="28.8"/>
<rect x="1792.0" y="669.0" width="9" height="31.5"/>
<rect x="1792.0" y="721.0" width="9" height="5.0"/>
<rect x="1792.0" y="746.5" width="9" height="31.5"/>
<rect x="1792.0" y="798.5" width="9" height="5.0"/>
<rect x="1792.0" y="824.0" width="9" height="31.5"/>
<rect x="1792.0" y="876.0" width="9" height="5.0"/>
<rect x="1792.0" y="901.5" width="9" height="31.5"/>
<rect x="1792.0" y="953.5" width="9" height="5.0"/>
<rect x="1792.0" y="979.0" width="9" height="31.5"/>
<rect x="1792.0" y="1031.0" width="9" height="5.0"/>
<rect x="1792.0" y="1056.5" width="9" height="31.5"/>
<rect x="1792.0" y="1108.5" width="9" height="5.0"/>
<rect x="1792.0" y="1134.0" width="9" height="31.5"/>
<rect x="1792.0" y="1186.0" width="9" height="5.0"/>
<rect x="1792.0" y="1211.5" width="9" height="31.5"/>
<rect x="1792.0" y="1263.5" width="9" height="5.0"/>
<rect x="1792.0" y="1289.0" width="9" height="7.0"/>
</g>
</svg></body></html>
